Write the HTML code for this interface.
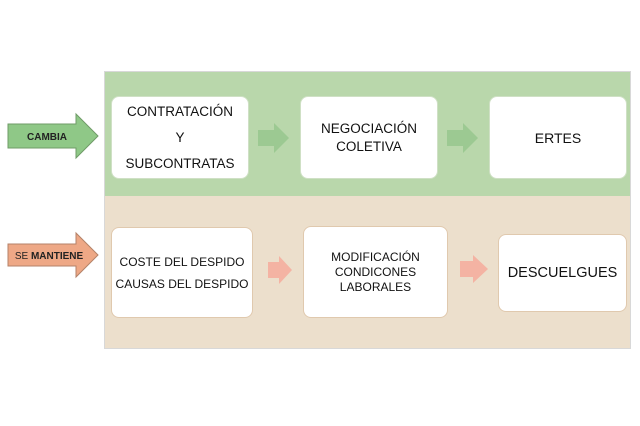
<!DOCTYPE html>
<html><head><style>
body{margin:0;width:640px;height:426px;background:#fff;position:relative;font-family:"Liberation Sans",sans-serif;overflow:hidden}
.a{position:absolute}
.box{position:absolute;background:#fff;border-radius:8px;display:flex;align-items:center;justify-content:center;text-align:center;color:#111;font-size:13px;line-height:18px}
</style></head><body>
<div class="a" style="left:104px;top:71px;width:527px;height:278px;border:1px solid #d8d8d8;box-sizing:border-box;background:#ecdfcc"></div>
<div class="a" style="left:105px;top:72px;width:525px;height:124px;background:#b9d7ab"></div>
<div class="box" style="left:111px;top:96px;width:136px;height:81px;border:1px solid #cfe0c5;line-height:26px;font-size:13.5px">CONTRATACIÓN<br>Y<br>SUBCONTRATAS</div>
<div class="box" style="left:300px;top:96px;width:136px;height:81px;border:1px solid #cfe0c5;font-size:13.5px">NEGOCIACIÓN<br>COLETIVA</div>
<div class="box" style="left:489px;top:96px;width:136px;height:81px;border:1px solid #cfe0c5;font-size:14px">ERTES</div>
<div class="box" style="left:111px;top:227px;width:140px;height:89px;border:1px solid #e0c9ae;font-size:12px;line-height:22px">COSTE DEL DESPIDO<br>CAUSAS DEL DESPIDO</div>
<div class="box" style="left:303px;top:226px;width:143px;height:90px;border:1px solid #e0c9ae;font-size:12px;line-height:15px">MODIFICACIÓN<br>CONDICONES<br>LABORALES</div>
<div class="box" style="left:498px;top:234px;width:127px;height:76px;border:1px solid #e0c9ae;font-size:14.5px">DESCUELGUES</div>
<svg class="a" style="left:0;top:0" width="640" height="426">
<polygon points="258,130 274,130 274,123 289,138 274,153 274,146 258,146" fill="#9cc992"/>
<polygon points="447,130 463,130 463,123 478,138 463,153 463,146 447,146" fill="#9cc992"/>
<polygon points="268,262 279,262 279,256 292,270 279,284 279,278 268,278" fill="#f4b3a3"/>
<polygon points="460,261 473,261 473,255 488,269 473,283 473,277 460,277" fill="#f4b3a3"/>
<polygon points="8,124 76,124 76,114 98,136 76,158 76,148 8,148" fill="#8fc887" stroke="#6f9b67" stroke-width="1"/>
<polygon points="8,244 76,244 76,233 98,255 76,277 76,266 8,266" fill="#eea886" stroke="#b48268" stroke-width="1"/>
<text x="47" y="140" font-size="10" font-weight="bold" text-anchor="middle" fill="#222" font-family="Liberation Sans">CAMBIA</text>
<text x="49" y="259" font-size="10" text-anchor="middle" fill="#222" font-family="Liberation Sans">SE <tspan font-weight="bold">MANTIENE</tspan></text>
</svg>
</body></html>
